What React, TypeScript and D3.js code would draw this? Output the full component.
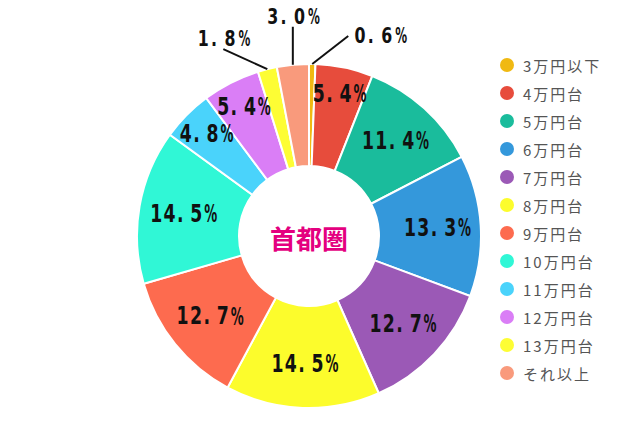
import { useEffect, useRef } from 'react';
import * as d3 from 'd3';

const CATEGORIES = ['3万円以下', '4万円台', '5万円台', '6万円台', '7万円台', '8万円台', '9万円台', '10万円台', '11万円台', '12万円台', '13万円台', 'それ以上'];
const VALUES = [0.6, 5.4, 11.4, 13.3, 12.7, 14.5, 12.7, 14.5, 4.8, 5.4, 1.8, 3.0];
const COLORS = ['#f0b912', '#e74c3c', '#1abc9c', '#3498db', '#9b59b6', '#fcfc2c', '#fd6b4f', '#30f7d6', '#4ad3fb', '#da7ef6', '#fdfd34', '#f99a7c'];
const CENTER_TITLE = '首都圏';

// small slices get a leader line; offset of the line end from the slice's outer edge
const OUTSIDE_OFFSETS: Record<number, { dx: number; dy: number; anchor: string }> = {
  0: { dx: 36, dy: -28, anchor: 'start' },
  10: { dx: -44, dy: -20, anchor: 'middle' },
  11: { dx: 0, dy: -38, anchor: 'middle' },
};

const W = 640;
const H = 426;

type Sel = d3.Selection<SVGGElement, unknown, null, undefined>;

// percent labels are set like a narrow monospace face: every character gets its own cell
function drawLabel(parent: Sel, text: string, x: number, y: number, anchor: string, size: number, central: boolean) {
  const cell = 13.4;
  const chars = text.split('');
  const left = anchor === 'start' ? x : x - (chars.length * cell) / 2;
  const lg = parent.append('g');
  chars.forEach((c, k) => {
    const shift = c === '.' ? -cell * 0.2 : c === '%' ? 1 : 0;
    const sx = c === '%' ? 0.54 : 0.72;
    lg.append('text')
      .attr('transform', `translate(${left + (k + 0.5) * cell + shift},${y}) scale(${sx},1)`)
      .attr('text-anchor', 'middle')
      .attr('dominant-baseline', central ? 'central' : 'auto')
      .attr('font-family', "'DejaVu Sans', sans-serif")
      .attr('font-weight', 'bold')
      .attr('font-size', size)
      .attr('fill', '#111')
      .text(c);
  });
}

export default function App() {
  const ref = useRef<SVGSVGElement>(null);

  useEffect(() => {
    if (!ref.current) return;
    const svg = d3.select(ref.current);
    svg.selectAll('*').remove();

    const cx = 309;
    const cy = 236;
    const outerR = 172;
    const innerR = 70;

    const g = svg.append('g').attr('transform', `translate(${cx},${cy})`) as unknown as Sel;

    const pie = d3.pie<number>().sort(null).value(d => d);
    const arcs = pie(VALUES);
    const arc = d3.arc<d3.PieArcDatum<number>>().innerRadius(innerR).outerRadius(outerR);

    g.selectAll('path.slice')
      .data(arcs)
      .join('path')
      .attr('class', 'slice')
      .attr('d', arc)
      .attr('fill', (d, i) => COLORS[i])
      .attr('stroke', '#ffffff')
      .attr('stroke-width', 2);

    arcs.forEach((d, i) => {
      const text = `${VALUES[i].toFixed(1)}%`;
      const mid = (d.startAngle + d.endAngle) / 2;
      const out = OUTSIDE_OFFSETS[i];
      if (out) {
        const x0 = Math.sin(mid) * outerR;
        const y0 = -Math.cos(mid) * outerR;
        const x1 = x0 + out.dx;
        const y1 = y0 + out.dy;
        g.append('line')
          .attr('x1', x0).attr('y1', y0)
          .attr('x2', x1).attr('y2', y1)
          .attr('stroke', '#111')
          .attr('stroke-width', 2);
        const tx = out.anchor === 'start' ? x1 + 5 : x1;
        const ty = out.anchor === 'start' ? y1 + 7 : y1 - 3;
        drawLabel(g, text, tx, ty, out.anchor, 22, false);
      } else {
        const r = VALUES[i] < 6 ? 145 : 128;
        drawLabel(g, text, Math.sin(mid) * r, -Math.cos(mid) * r, 'middle', 24, true);
      }
    });

    g.append('text')
      .attr('x', 0)
      .attr('y', 1)
      .attr('text-anchor', 'middle')
      .attr('dominant-baseline', 'central')
      .attr('font-family', "'Noto Sans CJK JP', sans-serif")
      .attr('font-weight', 'bold')
      .attr('font-size', 26)
      .attr('fill', '#e4007f')
      .text(CENTER_TITLE);

    // legend
    const legendY = d3.scalePoint<string>()
      .domain(CATEGORIES)
      .range([65, 373]);

    const legend = svg.append('g')
      .selectAll('g')
      .data(CATEGORIES)
      .join('g')
      .attr('transform', d => `translate(507,${legendY(d)})`);

    legend.append('circle')
      .attr('r', 7)
      .attr('fill', (d, i) => COLORS[i]);

    legend.append('text')
      .attr('x', 16)
      .attr('dominant-baseline', 'central')
      .attr('font-family', "'Noto Sans CJK JP', sans-serif")
      .attr('font-size', 15)
      .attr('letter-spacing', 2)
      .attr('fill', '#555')
      .text(d => d);
  }, []);

  return (
    <svg
      ref={ref}
      width={W}
      height={H}
      style={{ position: 'absolute', left: 0, top: 0, background: '#fff', display: 'block' }}
    />
  );
}
